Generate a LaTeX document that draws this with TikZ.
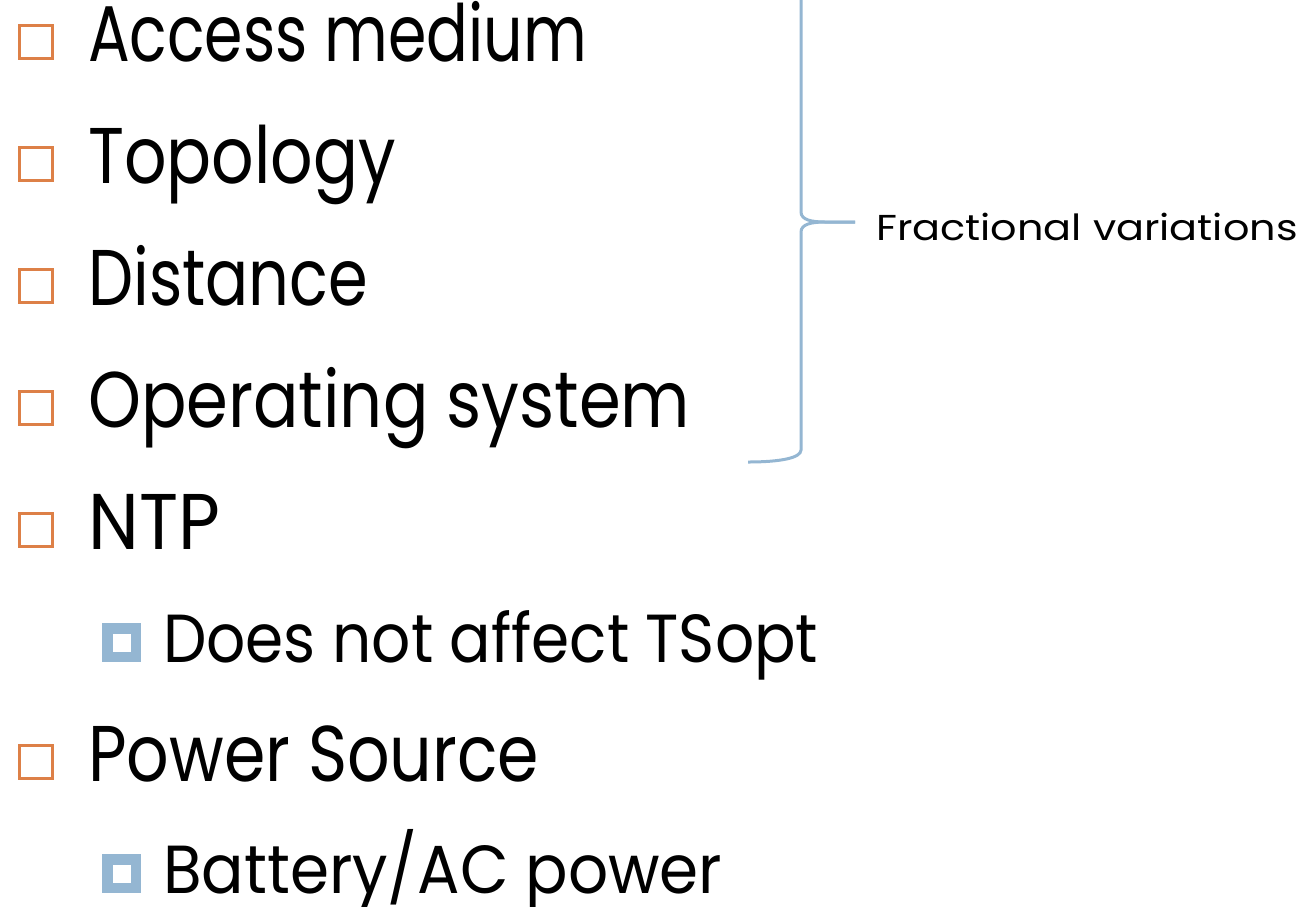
\documentclass[tikz,border=0pt]{standalone}
\usepackage{fontspec}
\setmainfont{Poppins}
\definecolor{bulorange}{HTML}{DD8047}
\definecolor{bulblue}{HTML}{94B6D2}
\begin{document}
\begin{tikzpicture}[x=1pt,y=-1pt,
  mainitem/.style={anchor=base west,inner sep=0pt,font=\fontsize{79}{79}\selectfont},
  subitem/.style={anchor=base west,inner sep=0pt,font=\fontsize{68}{68}\selectfont},
  obullet/.style={draw=bulorange,line width=3pt,minimum size=33pt,inner sep=0pt},
  bbullet/.style={draw=bulblue,line width=10.5pt,minimum size=28.5pt,inner sep=0pt},
  brace/.style={draw=bulblue,line width=3pt}]
\useasboundingbox (0,0) rectangle (1302,906);
% main items
\foreach \n/\t/\y/\s in {a/Access medium/61/0.783,b/Topology/183/0.843,c/Distance/305/0.808,d/Operating system/427/0.852,e/NTP/549/0.915,f/Power Source/781/0.844}{
  \node[obullet] (bul\n) at (36,\y-19.5) {};
  \node[mainitem] (t\n) at (88,\y) {\scalebox{\s}[1]{\t}};
}
% sub items
\foreach \n/\t/\y/\s in {g/{Does not affect TSopt}/662/0.903,h/{Battery/AC power}/893/0.925}{
  \node[bbullet] (bul\n) at (121.5,\y-19.5) {};
  \node[subitem] (t\n) at (163,\y) {\scalebox{\s}[1]{\t}};
}
% brace
\coordinate (btop) at (801,0);
\coordinate (btip) at (855,222);
\coordinate (bend) at (748,462);
\draw[brace] (btop) -- (801,212) .. controls (801,220) and (812,222) .. (825,222) -- (btip);
\draw[brace] (btip) -- (825,222) .. controls (812,222) and (801,224) .. (801,232) -- (801,450) .. controls (801,458) and (780,462) .. (bend);
\node[anchor=base west,inner sep=0pt,font=\fontsize{36}{36}\selectfont] (frac) at (876,240) {\scalebox{1.15}[1]{Fractional variations}};
\end{tikzpicture}
\end{document}
